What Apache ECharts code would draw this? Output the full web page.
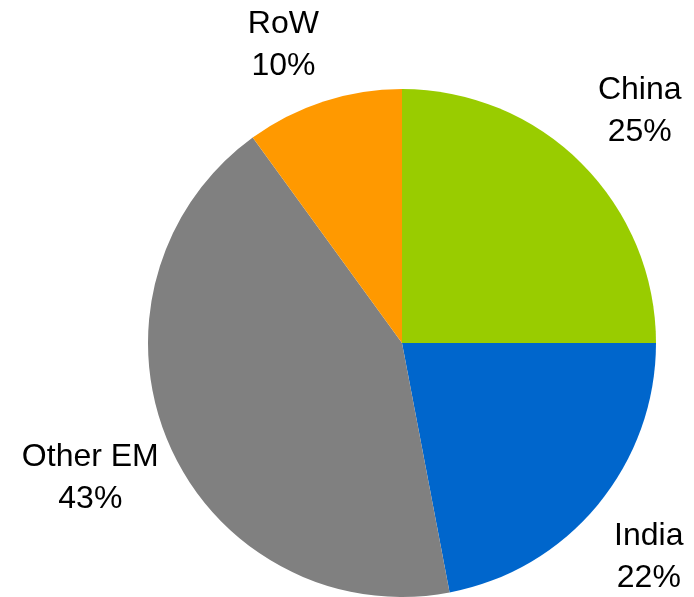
<!DOCTYPE html>
<html>
<head>
<meta charset="utf-8">
<script src="https://cdn.jsdelivr.net/npm/echarts@6/dist/echarts.min.js"></script>
<style>html,body{margin:0;padding:0;background:#fff}#c{width:694px;height:597px}</style>
</head>
<body>
<div id="c"></div>
<script>
const categories = ['China', 'India', 'Other EM', 'RoW'];
const shares = [25, 22, 43, 10];
const colors = ['#99CC00', '#0066CC', '#808080', '#FF9900'];

const chart = echarts.init(document.getElementById('c'), null, {renderer: 'canvas'});
const nudge = [[3, 3], [-9, 3], [-7, 3], [-16, 2]];
chart.setOption({
  animation: false,
  series: [{
    type: 'pie',
    center: [402, 343],
    radius: [0, 254],
    startAngle: 90,
    clockwise: true,
    data: categories.map((n, i) => ({name: n, value: shares[i], itemStyle: {color: colors[i]}})),
    label: {
      show: true,
      position: 'outside',
      formatter: p => p.name + '\n' + p.value + '%',
      fontFamily: 'Liberation Sans, Arial, sans-serif',
      fontSize: 32,
      lineHeight: 42,
      color: '#000',
      width: 200,
      overflow: 'none',
      distanceToLabelLine: 0
    },
    labelLine: {show: false, length: 78, length2: 0},
    labelLayout: function (p) {
      const d = nudge[p.dataIndex];
      return {align: 'center', verticalAlign: 'middle', dx: d[0], dy: d[1]};
    },
    emphasis: {disabled: true}
  }]
});
</script>
</body>
</html>
